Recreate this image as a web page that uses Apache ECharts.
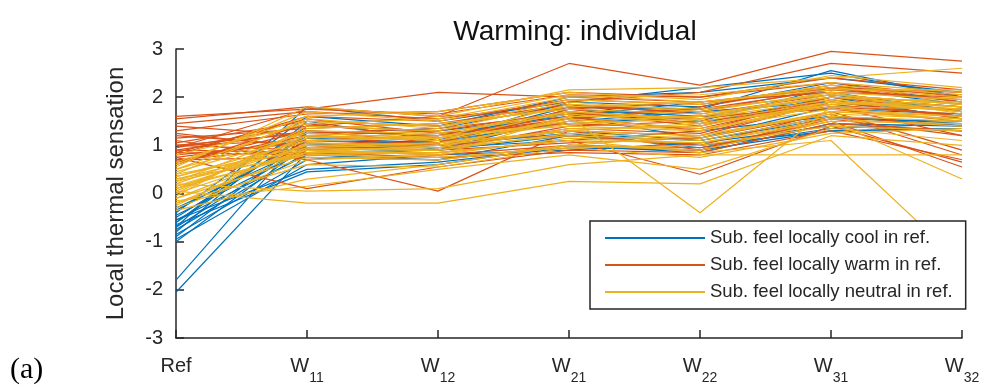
<!DOCTYPE html>
<html>
<head>
<meta charset="utf-8">
<script src="https://cdn.jsdelivr.net/npm/echarts@6/dist/echarts.min.js"></script>
<style>
html,body{margin:0;padding:0;background:#fff;}
#chart{width:983px;height:389px;}
</style>
</head>
<body>
<div id="chart"></div>
<script>
// Categories (x-axis)
const categories = ['Ref', 'W11', 'W12', 'W21', 'W22', 'W31', 'W32'];
const yTicks = [-3, -2, -1, 0, 1, 2, 3];
const titleText = 'Warming: individual';
const yAxisName = 'Local thermal sensation';
const groupNames = ['Sub. feel locally cool in ref.', 'Sub. feel locally warm in ref.', 'Sub. feel locally neutral in ref.'];

// Subjects who felt locally cool in the reference condition
const coolLines = [
  [-0.35, 1.10, 1.05, 1.75, 1.60, 2.00, 1.80],
  [-0.45, 0.90, 1.00, 1.30, 1.10, 1.55, 1.50],
  [-0.50, 1.20, 1.10, 1.80, 1.75, 2.55, 2.00],
  [-0.55, 0.80, 0.70, 1.20, 1.00, 1.30, 1.35],
  [-0.60, 1.40, 1.30, 1.60, 1.90, 2.10, 1.70],
  [-0.65, 0.45, 0.60, 1.00, 0.85, 1.45, 1.40],
  [-0.70, 1.00, 1.05, 1.50, 1.70, 1.90, 1.60],
  [-0.75, 0.85, 0.90, 1.60, 1.15, 1.80, 1.75],
  [-0.80, 1.50, 1.10, 1.90, 1.80, 2.30, 1.90],
  [-0.85, 0.70, 0.95, 1.10, 1.30, 1.60, 1.45],
  [-0.90, 1.15, 1.05, 1.70, 1.45, 2.00, 1.55],
  [-0.95, 0.60, 0.80, 0.90, 1.05, 1.40, 1.30],
  [-1.00, 1.00, 1.10, 1.45, 1.60, 1.75, 1.65],
  [-0.40, 1.60, 1.40, 2.00, 2.10, 2.40, 2.10],
  [-0.30, 0.95, 1.00, 1.25, 0.95, 1.35, 1.45],
  [-0.60, 1.25, 1.35, 1.85, 1.50, 2.20, 1.85],
  [-1.80, 1.30, 1.20, 1.65, 1.75, 2.05, 1.70],
  [-2.05, 0.85, 0.90, 1.20, 1.10, 1.60, 1.40],
  [-0.70, 1.80, 1.50, 1.90, 2.20, 2.50, 2.00],
  [-0.55, 0.50, 0.65, 0.95, 0.90, 1.30, 1.35]
];

// Subjects who felt locally warm in the reference condition
const warmLines = [
  [1.60, 1.75, 2.10, 2.00, 1.90, 2.20, 2.10],
  [1.55, 1.80, 1.60, 2.70, 2.25, 2.95, 2.75],
  [1.45, 1.70, 1.55, 1.90, 2.10, 2.70, 2.50],
  [1.40, 1.20, 1.00, 1.30, 1.20, 1.90, 1.60],
  [1.30, 1.65, 1.70, 2.10, 2.00, 2.30, 2.00],
  [1.20, 1.00, 0.90, 1.40, 1.50, 1.80, 1.20],
  [1.10, 0.70, 0.05, 1.30, 0.90, 1.60, 1.40],
  [1.05, 1.50, 1.40, 1.80, 1.70, 2.20, 1.90],
  [1.00, 0.90, 0.80, 1.00, 0.95, 1.50, 0.55],
  [0.95, 1.40, 1.60, 1.75, 1.90, 2.10, 2.00],
  [0.90, 1.30, 1.20, 1.60, 1.30, 2.00, 1.70],
  [0.85, 0.80, 0.85, 1.10, 0.40, 1.40, 0.65],
  [0.80, 1.60, 1.50, 1.95, 1.85, 2.20, 2.05],
  [0.75, 1.10, 1.00, 1.50, 1.60, 1.75, 1.50],
  [0.70, 0.95, 1.10, 1.20, 1.00, 1.70, 0.90],
  [0.65, 1.20, 1.30, 1.70, 1.40, 2.00, 1.80],
  [0.60, 1.45, 1.15, 1.55, 1.75, 2.15, 1.95],
  [0.90, 0.85, 0.75, 0.85, 0.80, 1.30, 0.70],
  [1.00, 1.25, 1.35, 1.65, 1.55, 1.85, 1.60],
  [0.80, 1.05, 0.95, 1.35, 1.25, 1.90, 1.75],
  [0.95, 1.75, 1.65, 2.05, 2.00, 2.40, 2.15],
  [0.75, 0.10, 0.55, 0.90, 0.85, 1.45, 1.30],
  [1.15, 1.35, 1.45, 1.85, 1.65, 2.05, 1.85],
  [0.85, 1.55, 1.25, 1.45, 1.35, 1.95, 1.55],
  [1.25, 0.95, 0.90, 1.05, 1.15, 1.65, 0.80],
  [0.70, 0.75, 0.70, 1.00, 0.90, 1.55, 1.20],
  [1.00, 1.10, 1.20, 1.55, 1.80, 2.25, 1.90],
  [0.65, 1.30, 1.05, 1.75, 1.45, 1.80, 1.65]
];

// Subjects who felt locally neutral in the reference condition
const neutralLines = [
  [0.55, 1.80, 1.60, 2.15, 2.20, 2.40, 2.60],
  [0.50, 1.50, 1.40, 1.80, 1.90, 2.20, 2.00],
  [0.45, 1.20, 1.10, 1.50, 1.60, 2.00, 1.80],
  [0.40, 0.90, 0.80, 1.60, -0.40, 1.80, 1.50],
  [0.35, 1.00, 1.05, 1.30, 1.20, 1.70, 1.60],
  [0.30, 0.80, 0.85, 1.10, 0.85, 1.10, -1.45],
  [0.25, 1.30, 1.25, 1.70, 1.50, 1.90, 1.75],
  [0.20, 0.05, 0.10, 0.60, 0.80, 0.80, 0.80],
  [0.15, 0.80, 0.75, 0.95, 1.00, 1.40, 1.30],
  [0.10, 1.10, 1.20, 1.40, 1.30, 1.85, 1.90],
  [0.05, -0.20, -0.20, 0.25, 0.20, 1.20, 1.00],
  [0.00, 0.90, 0.95, 1.20, 1.10, 1.60, 1.50],
  [-0.05, 1.40, 1.30, 1.90, 1.70, 2.10, 1.95],
  [-0.10, 0.75, 0.70, 1.00, 0.90, 1.50, 0.30],
  [-0.15, 0.15, 0.50, 0.80, 0.50, 1.35, 1.10],
  [-0.20, 0.85, 0.90, 1.35, 1.40, 1.90, 1.70],
  [-0.25, 1.05, 1.00, 1.55, 1.35, 1.75, 1.60],
  [-0.30, 0.70, 0.80, 1.15, 1.05, 1.50, 1.45],
  [-0.35, 0.30, 0.60, 1.00, 1.20, 1.65, 1.55],
  [0.60, 1.70, 1.50, 2.00, 2.05, 2.30, 2.10],
  [0.65, 1.60, 1.70, 2.10, 1.95, 2.45, 2.20],
  [0.50, 1.25, 1.15, 1.85, 1.75, 2.05, 1.85],
  [0.30, 0.95, 1.05, 1.45, 1.55, 1.95, 1.70],
  [0.20, 1.15, 1.25, 1.65, 1.45, 1.80, 1.75],
  [0.10, 0.85, 0.85, 1.10, 1.05, 1.55, 1.40],
  [0.00, 1.35, 1.45, 1.75, 1.65, 2.00, 1.90],
  [-0.10, 0.95, 0.90, 1.25, 1.15, 1.70, 1.55],
  [0.40, 1.55, 1.35, 1.95, 1.85, 2.25, 2.05],
  [0.80, 1.45, 1.55, 2.05, 1.90, 2.15, 2.15],
  [0.15, 1.00, 0.95, 1.60, 1.60, 2.10, 1.65],
  [-0.20, 0.60, 0.55, 0.95, 0.75, 1.25, 1.35],
  [0.35, 1.10, 1.15, 1.50, 1.30, 1.90, 1.80],
  [0.25, 0.85, 1.00, 1.30, 1.45, 1.85, 2.00],
  [0.05, 1.20, 1.10, 1.70, 1.55, 2.05, 1.85]
];

const groupColors = ['#0072BD', '#D95319', '#EDB120'];
const groups = [coolLines, warmLines, neutralLines];

const FONT = '"Liberation Sans", Arial, Helvetica, sans-serif';
const AXIS_COLOR = '#262626';

const series = [];
groups.forEach((lines, g) => {
  lines.forEach((vals) => {
    series.push({
      type: 'line',
      name: groupNames[g],
      data: vals,
      symbol: 'none',
      showSymbol: false,
      silent: true,
      z: 2 + g,
      lineStyle: { width: 1.2, color: groupColors[g] },
      itemStyle: { color: groupColors[g] },
      emphasis: { disabled: true }
    });
  });
});

const chart = echarts.init(document.getElementById('chart'), null, { renderer: 'canvas' });
chart.setOption({
  animation: false,
  backgroundColor: '#ffffff',
  textStyle: { fontFamily: FONT },
  title: [
    {
      text: titleText,
      left: 570,
      textAlign: 'center',
      top: 13,
      textStyle: { fontFamily: FONT, fontSize: 28, fontWeight: 'normal', color: '#111' }
    },
    {
      text: '(a)',
      left: 5,
      top: 350,
      textStyle: { fontFamily: '"Liberation Serif", "Times New Roman", serif', fontSize: 30, fontWeight: 'normal', color: '#000' }
    }
  ],
  legend: {
    data: groupNames,
    orient: 'vertical',
    left: 590,
    top: 221,
    padding: [7, 13, 7, 15],
    itemGap: 7,
    itemWidth: 100,
    itemHeight: 2,
    icon: 'rect',
    selectedMode: false,
    backgroundColor: '#ffffff',
    borderColor: AXIS_COLOR,
    borderWidth: 1.5,
    borderRadius: 0,
    z: 10,
    textStyle: { fontFamily: FONT, fontSize: 18.5, color: AXIS_COLOR, lineHeight: 20 }
  },
  grid: { left: 176, right: 21, top: 49, bottom: 51, containLabel: false },
  xAxis: {
    type: 'category',
    data: categories,
    boundaryGap: false,
    axisLine: { show: true, onZero: false, lineStyle: { color: AXIS_COLOR, width: 1.5 } },
    axisTick: { show: true, inside: true, length: 8, lineStyle: { color: AXIS_COLOR, width: 1.5 } },
    splitLine: { show: false },
    axisLabel: {
      margin: 18,
      interval: 0,
      color: AXIS_COLOR,
      formatter: function (v) {
        if (v === 'Ref') return '{w|Ref}';
        return '{w|W}{s|' + v.slice(1) + '}';
      },
      rich: {
        w: { fontFamily: FONT, fontSize: 20, color: AXIS_COLOR, lineHeight: 20, verticalAlign: 'top' },
        s: { fontFamily: FONT, fontSize: 14, color: AXIS_COLOR, lineHeight: 29, verticalAlign: 'bottom' }
      }
    }
  },
  yAxis: {
    type: 'value',
    min: yTicks[0],
    max: yTicks[yTicks.length - 1],
    interval: 1,
    name: yAxisName,
    nameLocation: 'middle',
    nameGap: 48,
    nameTextStyle: { fontFamily: FONT, fontSize: 24, color: AXIS_COLOR },
    axisLine: { show: true, lineStyle: { color: AXIS_COLOR, width: 1.5 } },
    axisTick: { show: true, inside: true, length: 8, lineStyle: { color: AXIS_COLOR, width: 1.5 } },
    splitLine: { show: false },
    axisLabel: { margin: 13, fontFamily: FONT, fontSize: 20, color: AXIS_COLOR }
  },
  series: series
});
</script>
</body>
</html>
